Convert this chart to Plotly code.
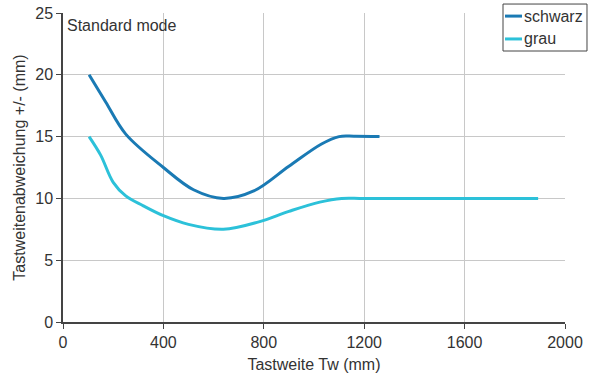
import plotly.graph_objects as go

# Data
schwarz_x = [104, 170, 250, 400, 520, 639, 760, 900, 1030, 1100, 1160, 1261]
schwarz_y = [20.0, 17.8, 15.2, 12.5, 10.7, 10.0, 10.6, 12.6, 14.4, 15.0, 15.03, 15.0]

grau_x = [104, 150, 200, 250, 320, 400, 500, 639, 780, 900, 1023, 1110, 1200, 1893]
grau_y = [15.0, 13.5, 11.3, 10.2, 9.4, 8.6, 7.9, 7.5, 8.1, 8.95, 9.7, 10.0, 10.0, 10.0]

x_ticks = [0, 400, 800, 1200, 1600, 2000]
y_ticks = [0, 5, 10, 15, 20, 25]

series_names = ["schwarz", "grau"]
series_colors = ["#1a7ab4", "#2cc1d9"]

FONT = "Liberation Sans, Arial, sans-serif"
TXT = "#333333"
FS = 16

fig = go.Figure()
fig.add_trace(go.Scatter(x=schwarz_x, y=schwarz_y, mode="lines", name=series_names[0],
                         line=dict(color=series_colors[0], width=3, shape="spline", smoothing=1.0)))
fig.add_trace(go.Scatter(x=grau_x, y=grau_y, mode="lines", name=series_names[1],
                         line=dict(color=series_colors[1], width=3, shape="spline", smoothing=1.0)))

axis_common = dict(showgrid=True, gridcolor="#c8c8c8", gridwidth=1, showline=True,
                   linecolor="#444444", linewidth=1.5, ticks="outside", ticklen=5,
                   tickcolor="#444444", zeroline=False, automargin=False,
                   tickfont=dict(family=FONT, size=FS, color=TXT))

fig.update_layout(
    width=600, height=390,
    margin=dict(l=63, r=35, t=13, b=68),
    paper_bgcolor="white", plot_bgcolor="white",
    font=dict(family=FONT, size=FS, color=TXT),
    xaxis=dict(range=[0, 2000], tickvals=x_ticks,
               title=dict(text="Tastweite Tw (mm)", font=dict(family=FONT, size=FS, color=TXT), standoff=9),
               **axis_common),
    yaxis=dict(range=[0, 25], tickvals=y_ticks,
               title=dict(text="Tastweitenabweichung +/- (mm)", font=dict(family=FONT, size=FS, color=TXT), standoff=6),
               **axis_common),
    showlegend=False,
)

# Manual legend box (to match the compact reference legend)
fig.add_shape(type="rect", xref="paper", yref="paper", x0=0.8765, x1=1.0438, y0=0.877, y1=1.029,
              line=dict(color="#444444", width=1), fillcolor="white", layer="above")
legend_y = [0.990, 0.916]
for name, color, ly in zip(series_names, series_colors, legend_y):
    fig.add_shape(type="line", xref="paper", yref="paper", x0=0.8805, x1=0.9143, y0=ly, y1=ly,
                  line=dict(color=color, width=3), layer="above")
    fig.add_annotation(text=name, xref="paper", yref="paper", x=0.914, y=ly,
                       xanchor="left", yanchor="middle", showarrow=False,
                       font=dict(family=FONT, size=FS, color=TXT))

fig.add_annotation(text="Standard mode", xref="paper", yref="paper", x=0.004, y=0.993,
                   xanchor="left", yanchor="top", showarrow=False,
                   font=dict(family=FONT, size=FS, color=TXT))

fig.write_html("out.html", config={"displayModeBar": False},
               post_script="document.body.style.margin='0';")
